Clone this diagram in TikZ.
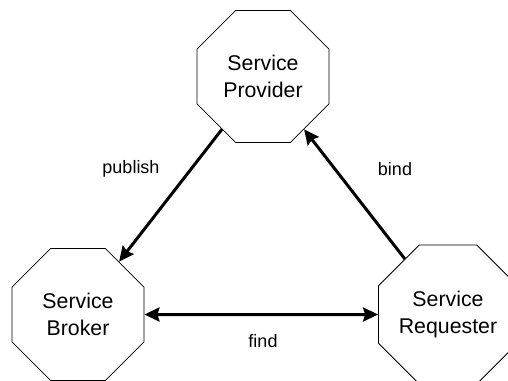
\documentclass[tikz,border=0pt]{standalone}
\usepackage{fontspec}
\setmainfont{Liberation Sans}
\usetikzlibrary{shapes.geometric,arrows.meta}
\begin{document}
\begin{tikzpicture}[x=1pt,y=-1pt,
  octa/.style={draw,line width=0.8pt,regular polygon,regular polygon sides=8,
    minimum size=142.9pt,inner sep=0pt,align=center,
    font=\fontsize{21.3}{27}\selectfont},
  conn/.style={line width=3pt,-{Stealth[length=15pt,width=14pt,inset=2pt]}},
  biconn/.style={line width=3pt,{Stealth[length=15pt,width=14pt,inset=2pt]}-{Stealth[length=15pt,width=14pt,inset=2pt]}},
  lbl/.style={font=\fontsize{18}{22}\selectfont,inner sep=0pt}]
\useasboundingbox (0,0) rectangle (508,380);
\clip (0,0) rectangle (508,380);
\fill[white] (0,0) rectangle (508,380);
\node[octa] (prov) at (263,76.5) {Service\\Provider};
\node[octa] (brok) at (78,314.5) {Service\\Broker};
\node[octa] (req) at (448,314.5) {Service\\Requester};
\draw[conn] (prov) -- (brok);
\draw[conn] (req) -- (prov);
\draw[biconn] (brok) -- (req);
\node[lbl] (lpub) at (131,169) {publish};
\node[lbl] (lbind) at (395,169) {bind};
\node[lbl] (lfind) at (263,341) {find};
\end{tikzpicture}
\end{document}
